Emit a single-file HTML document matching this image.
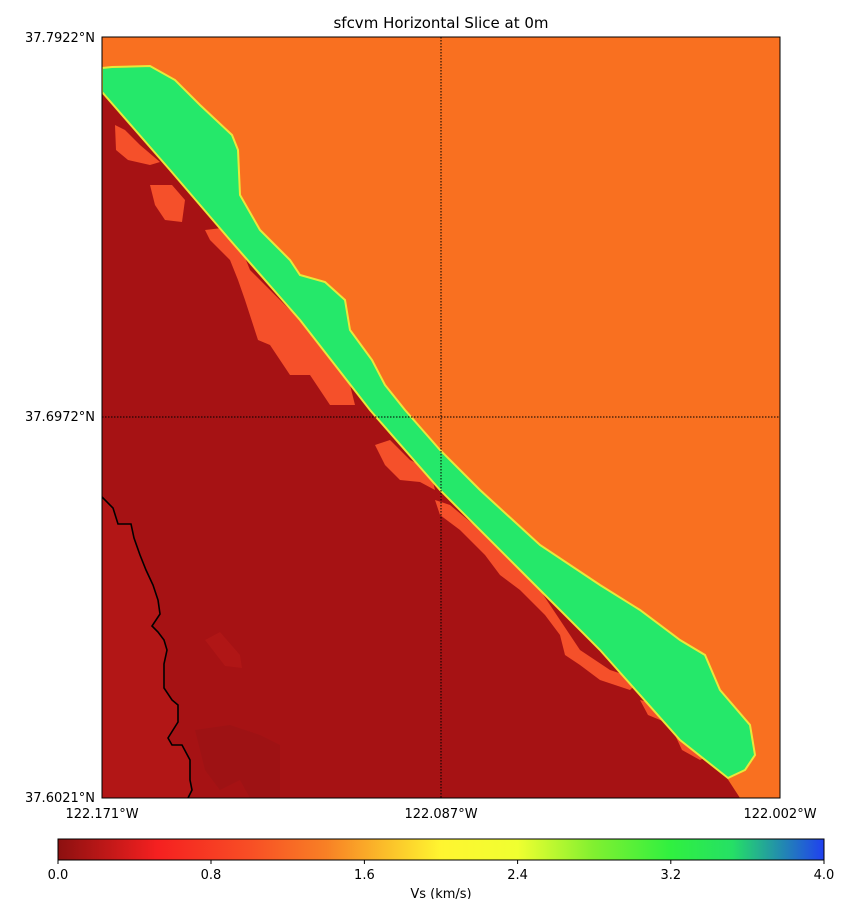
<!DOCTYPE html>
<html><head><style>
body{margin:0;background:#fff;width:852px;height:899px;overflow:hidden;font-family:"DejaVu Sans","Liberation Sans",sans-serif;}
</style></head><body>
<svg width="852" height="899" xmlns="http://www.w3.org/2000/svg" font-family="DejaVu Sans, Liberation Sans, sans-serif">
<defs>
<linearGradient id="cb" x1="0" x2="1" y1="0" y2="0">
<stop offset="0" stop-color="#8c1010"/>
<stop offset="0.13" stop-color="#f52020"/>
<stop offset="0.25" stop-color="#f84e25"/>
<stop offset="0.35" stop-color="#f88025"/>
<stop offset="0.43" stop-color="#fbc02a"/>
<stop offset="0.5" stop-color="#fff530"/>
<stop offset="0.6" stop-color="#f0ff30"/>
<stop offset="0.7" stop-color="#80f030"/>
<stop offset="0.8" stop-color="#30f040"/>
<stop offset="0.88" stop-color="#25e065"/>
<stop offset="1" stop-color="#2040f0"/>
</linearGradient>
<clipPath id="pc"><rect x="102" y="37" width="678" height="761"/></clipPath>
</defs>
<text x="441" y="28" font-size="15" text-anchor="middle">sfcvm Horizontal Slice at 0m</text>
<g clip-path="url(#pc)">
<rect x="102" y="37" width="678" height="761" fill="#f97020"/>
<polygon fill="#a61214" points="102,92 170,170 230,240 300,320 370,410 440,490 520,570 600,650 680,740 727,778 740,798 102,798"/>
<g fill="#f5502a">
<polygon points="115,125 125,130 140,145 160,162 150,165 128,160 116,150"/>
<polygon points="150,185 172,185 185,200 182,222 165,220 155,205"/>
<polygon points="205,230 222,228 240,245 250,270 270,290 300,320 330,355 350,385 355,405 330,405 310,375 290,375 270,345 258,340 245,300 238,280 230,260 210,240"/>
<polygon points="375,445 390,440 410,460 430,470 435,490 420,482 400,480 385,465"/>
<polygon points="435,500 450,505 480,530 510,560 540,590 560,620 580,650 610,670 640,680 630,690 600,680 580,665 565,655 560,635 545,615 520,590 500,575 485,555 460,530 440,515"/>
<polygon points="640,700 660,705 675,720 665,722 648,715"/>
<polygon points="675,735 695,745 710,755 700,760 682,750"/>
</g>
<polygon fill="#b21616" points="102,497 113,508 118,524 131,524 134,538 140,555 146,570 153,585 158,600 160,614 152,626 158,632 164,640 167,650 164,664 164,688 172,700 178,705 178,722 168,738 172,745 182,745 190,760 190,780 192,790 188,798 102,798"/>
<polygon fill="#9e1214" points="195,730 230,725 260,735 280,745 280,798 250,798 240,780 220,790 205,770"/>
<polygon fill="#b01616" points="205,640 220,632 240,655 242,668 225,666"/>
<polygon fill="#25e86a" stroke="#e8e83a" stroke-width="2" points="102,92 102,68 112,67 150,66 175,80 200,105 232,135 238,150 240,195 260,230 290,260 300,275 325,282 345,300 350,330 372,360 385,385 405,410 440,450 480,490 540,545 600,585 640,610 680,640 705,655 720,690 750,725 755,755 745,770 728,778 680,740 600,650 520,570 440,490 370,410 300,320 230,240 170,170"/>
<polyline fill="none" stroke="#000" stroke-width="1.6" points="102,497 113,508 118,524 131,524 134,538 140,555 146,570 153,585 158,600 160,614 152,626 158,632 164,640 167,650 164,664 164,688 172,700 178,705 178,722 168,738 172,745 182,745 190,760 190,780 192,790 188,798"/>
<line x1="441" y1="37" x2="441" y2="798" stroke="#000" stroke-width="1" stroke-dasharray="1.5,1.5"/>
<line x1="102" y1="417" x2="780" y2="417" stroke="#000" stroke-width="1" stroke-dasharray="1.5,1.5"/>
</g>
<rect x="102" y="37" width="678" height="761" fill="none" stroke="#000" stroke-width="1"/>
<g font-size="13">
<text x="95" y="42" text-anchor="end">37.7922°N</text>
<text x="95" y="421" text-anchor="end">37.6972°N</text>
<text x="95" y="802" text-anchor="end">37.6021°N</text>
<text x="102" y="818" text-anchor="middle">122.171°W</text>
<text x="441" y="818" text-anchor="middle">122.087°W</text>
<text x="780" y="818" text-anchor="middle">122.002°W</text>
</g>
<rect x="58" y="839" width="766" height="21" fill="url(#cb)" stroke="#000" stroke-width="1"/>
<g stroke="#000" stroke-width="1">
<line x1="58" y1="860" x2="58" y2="864"/><line x1="211" y1="860" x2="211" y2="864"/><line x1="364.4" y1="860" x2="364.4" y2="864"/><line x1="517.6" y1="860" x2="517.6" y2="864"/><line x1="670.8" y1="860" x2="670.8" y2="864"/><line x1="824" y1="860" x2="824" y2="864"/>
</g>
<g font-size="13" text-anchor="middle">
<text x="58" y="879">0.0</text><text x="211" y="879">0.8</text><text x="364.4" y="879">1.6</text><text x="517.6" y="879">2.4</text><text x="670.8" y="879">3.2</text><text x="824" y="879">4.0</text>
<text x="441" y="898">Vs (km/s)</text>
</g>
</svg>
</body></html>
